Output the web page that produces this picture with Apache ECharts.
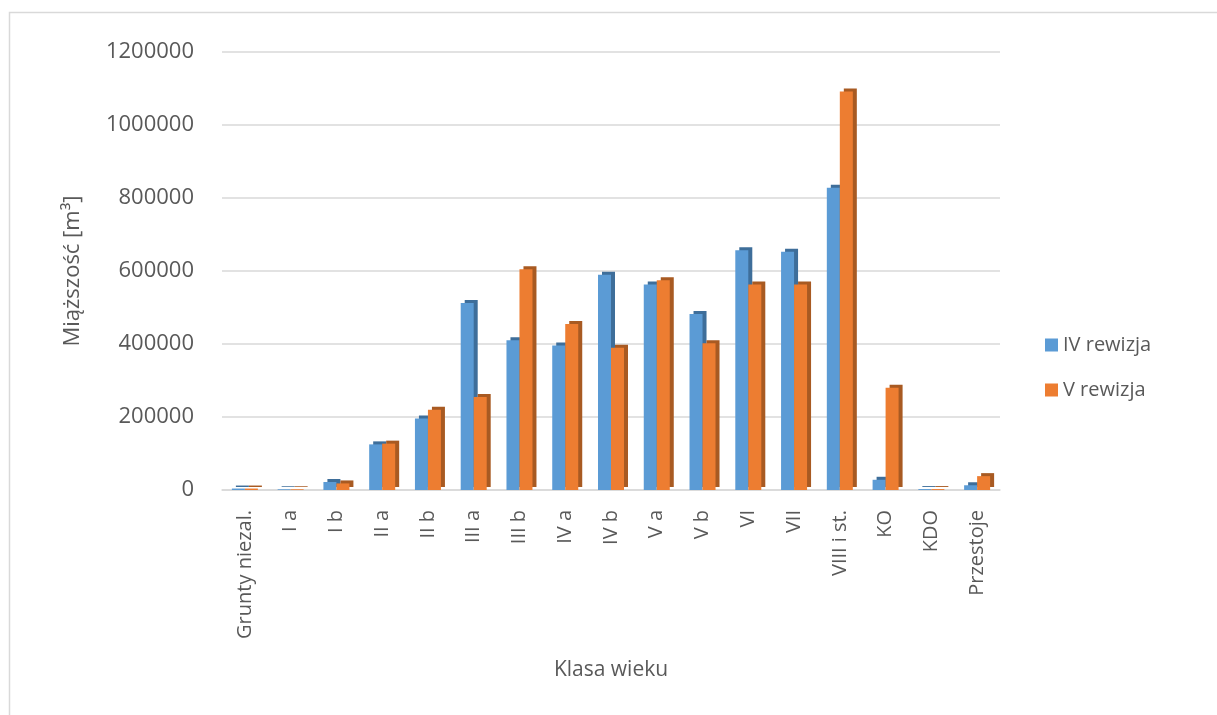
<!DOCTYPE html>
<html>
<head>
<meta charset="utf-8">
<script src="https://cdn.jsdelivr.net/npm/echarts@6/dist/echarts.min.js"></script>
<style>
html,body{margin:0;padding:0;background:#fff;}
#chart{width:1217px;height:715px;}
</style>
</head>
<body>
<div id="chart"></div>
<script>
const categories = ['Grunty niezal.', 'I a', 'I b', 'II a', 'II b', 'III a', 'III b', 'IV a', 'IV b', 'V a', 'V b', 'VI', 'VII', 'VIII i st.', 'KO', 'KDO', 'Przestoje'];
const seriesNames = ['IV rewizja', 'V rewizja'];
const rewizjaIV = [4000, 2000, 22000, 125000, 196000, 512000, 410000, 396000, 590000, 563000, 482000, 657000, 653000, 828000, 28000, 2500, 13000];
const rewizjaV  = [4000, 2000, 18000, 127000, 220000, 255000, 605000, 455000, 390000, 575000, 402000, 563000, 563000, 1092000, 280000, 2500, 38000];
const yTicks = [0, 200000, 400000, 600000, 800000, 1000000, 1200000];

const font = '"Open Sans", "Noto Sans", sans-serif';
const txt = '#595959';
const chart = echarts.init(document.getElementById('chart'));
chart.setOption({
  animation: false,
  backgroundColor: '#fff',
  textStyle: {fontFamily: font},
  graphic: [{
    type: 'rect', left: 7, top: 10,
    shape: {width: 1300, height: 800},
    style: {fill: 'none', stroke: '#d9d9d9', lineWidth: 1.5},
    z: -10
  }],
  grid: {left: 222, right: 217, top: 52, bottom: 225, containLabel: false},
  legend: {
    orient: 'vertical', left: 1040, top: 330,
    itemWidth: 13, itemHeight: 13, itemGap: 25, icon: 'rect',
    textStyle: {color: txt, fontSize: 20, fontFamily: font},
    data: seriesNames
  },
  xAxis: {
    type: 'category', data: categories,
    name: 'Klasa wieku', nameLocation: 'middle', nameGap: 170,
    nameTextStyle: {color: txt, fontSize: 21, fontFamily: font},
    axisLine: {show: true, lineStyle: {color: '#d9d9d9', width: 1.5}},
    axisTick: {show: false},
    axisLabel: {rotate: 90, color: txt, fontSize: 20, margin: 20, fontFamily: font, interval: 0}
  },
  yAxis: {
    type: 'value', min: 0, max: 1200000, interval: 200000,
    name: 'Miąższość [m³]', nameLocation: 'middle', nameGap: 138,
    nameTextStyle: {color: txt, fontSize: 22, fontFamily: font},
    axisLine: {show: false}, axisTick: {show: false},
    axisLabel: {color: txt, fontSize: 22, margin: 28, fontFamily: font,
      formatter: v => yTicks.includes(v) ? String(v) : ''},
    splitLine: {lineStyle: {color: '#d9d9d9', width: 1.5}}
  },
  series: [
    {name: seriesNames[0], type: 'bar', data: rewizjaIV, barWidth: 13, barGap: '0%',
     itemStyle: {color: '#5B9BD5', shadowColor: '#3E6E9A', shadowOffsetX: 4, shadowOffsetY: -3, shadowBlur: 0}},
    {name: seriesNames[1], type: 'bar', data: rewizjaV, barWidth: 13, barGap: '0%',
     itemStyle: {color: '#ED7D31', shadowColor: '#A85A22', shadowOffsetX: 4, shadowOffsetY: -3, shadowBlur: 0}}
  ]
});
</script>
</body>
</html>
